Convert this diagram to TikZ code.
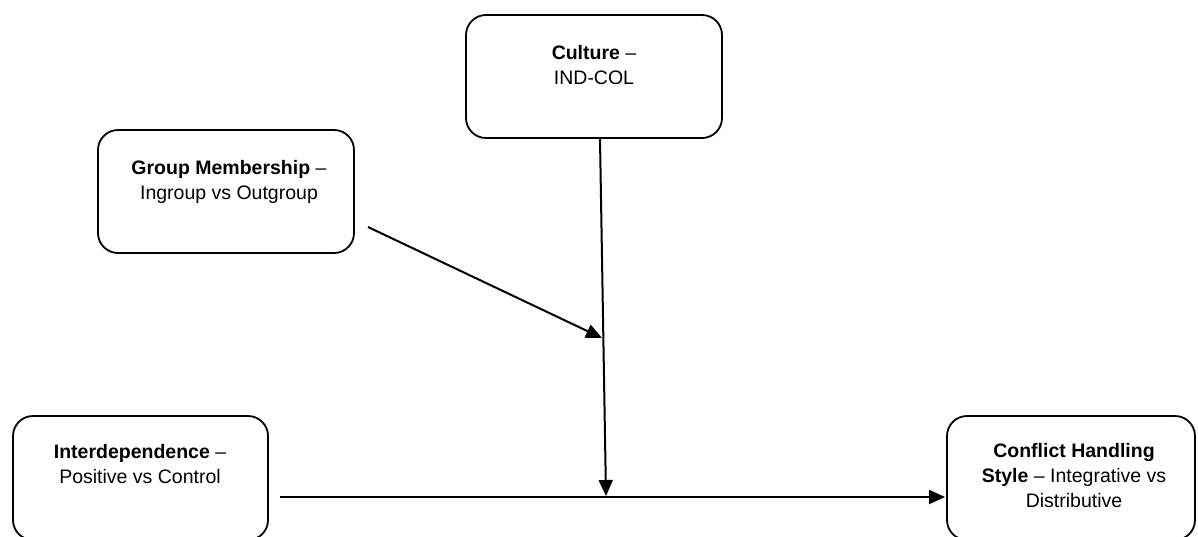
\documentclass[tikz,border=0pt]{standalone}
\usepackage{fontspec}
\setmainfont{Liberation Sans}
\usetikzlibrary{arrows.meta}
\begin{document}
\begin{tikzpicture}[x=1pt,y=-1pt,
  box/.style={draw, line width=1.8pt, rounded corners=20pt, inner sep=0pt},
  lbl/.style={align=center, inner sep=0pt, anchor=north, font=\fontsize{19.5}{25}\selectfont},
  conn/.style={line width=2pt, -{Triangle[length=16pt,width=14pt]}}]
\useasboundingbox (0,0) rectangle (1198,536);
\clip (0,0) rectangle (1198,536);
% boxes
\node[box, minimum width=256pt, minimum height=123pt] (cult) at (594,76.5) {};
\node[box, minimum width=256pt, minimum height=123pt] (grp) at (226,191.5) {};
\node[box, minimum width=255pt, minimum height=124pt] (inter) at (140.5,478) {};
\node[box, minimum width=248pt, minimum height=124pt] (chs) at (1071,478) {};
% texts
\node[lbl] (ctext) at (594,45) {\textbf{Culture} –\\IND-COL};
\node[lbl] (gtext) at (229,160.5) {\textbf{Group Membership} –\\Ingroup vs Outgroup};
\node[lbl] (itext) at (140,444.5) {\textbf{Interdependence} –\\Positive vs Control};
\node[lbl] (chtext) at (1074,443.5) {\textbf{Conflict Handling}\\\textbf{Style} – Integrative vs\\Distributive};
% connector end points
\coordinate (v1) at (600,139);
\coordinate (v2) at (606,496);
\coordinate (d1) at (368,227);
\coordinate (d2) at (602,338);
\coordinate (h1) at (280,497);
\coordinate (h2) at (945,497);
% connectors
\draw[conn] (v1) -- (v2);
\draw[conn] (d1) -- (d2);
\draw[conn] (h1) -- (h2);
\end{tikzpicture}
\end{document}
